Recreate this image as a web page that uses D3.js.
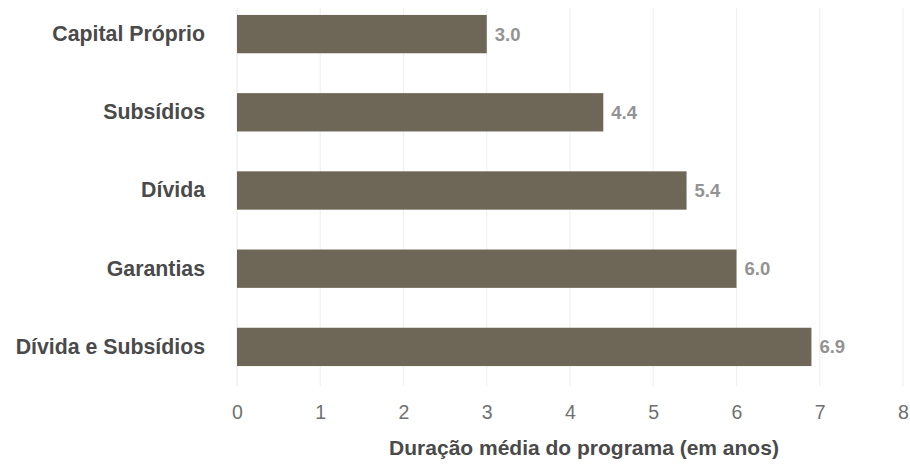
<!DOCTYPE html>
<html>
<head>
<meta charset="utf-8">
<script src="https://cdn.jsdelivr.net/npm/d3@7"></script>
<style>
  html, body { margin: 0; padding: 0; background: #fff; }
  svg { display: block; }
  text { font-family: "Liberation Sans", Arial, sans-serif; }
</style>
</head>
<body>
<svg id="chart" width="910" height="464"></svg>
<script>
// Average programme duration by instrument type
const categories = ["Capital Próprio", "Subsídios", "Dívida", "Garantias", "Dívida e Subsídios"];
const durations = [3.0, 4.4, 5.4, 6.0, 6.9];
const xTicks = [0, 1, 2, 3, 4, 5, 6, 7, 8];
const xTitle = "Duração média do programa (em anos)";

const FONT = "\"Liberation Sans\", Arial, sans-serif";
const svg = d3.select("#chart");
const plotLeft = 237, plotRight = 903, plotTop = -5, plotBottom = 386;

const x = d3.scaleLinear().domain([0, 8]).range([plotLeft, plotRight]);
const y = d3.scaleBand().domain(categories).range([plotTop, plotBottom]).paddingInner(0.51).paddingOuter(0.255);

// vertical gridlines
svg.append("g").selectAll("line").data(xTicks.slice(1)).join("line")
  .attr("x1", d => x(d)).attr("x2", d => x(d))
  .attr("y1", 8).attr("y2", plotBottom)
  .attr("stroke", "#f1f1f1").attr("stroke-width", 1.2);

// baseline
svg.append("line")
  .attr("x1", x(0)).attr("x2", x(0)).attr("y1", 8).attr("y2", plotBottom)
  .attr("stroke", "#e8e8e8").attr("stroke-width", 1);

// bars
svg.append("g").selectAll("rect").data(categories).join("rect")
  .attr("x", x(0))
  .attr("y", d => y(d))
  .attr("width", (d, i) => x(durations[i]) - x(0))
  .attr("height", y.bandwidth())
  .attr("fill", "#6e6656");

// value labels
svg.append("g").selectAll("text").data(categories).join("text")
  .attr("x", (d, i) => x(durations[i]) + 8)
  .attr("y", d => y(d) + y.bandwidth() / 2)
  .attr("dy", "0.35em")
  .attr("font-size", 18.5)
  .attr("font-weight", "bold")
  .attr("fill", "#939393")
  .text((d, i) => durations[i].toFixed(1));

// category axis
const yAxis = svg.append("g")
  .attr("transform", `translate(${plotLeft},0)`)
  .call(d3.axisLeft(y).tickSize(0).tickPadding(32));
yAxis.select(".domain").remove();
yAxis.selectAll("text")
  .attr("font-size", 21.3)
  .attr("font-weight", "bold")
  .attr("fill", "#4a4a4a")
  .style("font-family", FONT);

// value axis
const xAxis = svg.append("g")
  .attr("transform", `translate(0,${plotBottom})`)
  .call(d3.axisBottom(x).tickValues(xTicks).tickFormat(d3.format("d")).tickSize(0).tickPadding(19));
xAxis.select(".domain").remove();
xAxis.selectAll("text")
  .attr("font-size", 19.5)
  .attr("fill", "#707070")
  .style("font-family", FONT);

// axis title
svg.append("text")
  .attr("x", 584)
  .attr("y", 455)
  .attr("text-anchor", "middle")
  .attr("font-size", 21)
  .attr("font-weight", "bold")
  .attr("fill", "#4a4a4a")
  .style("font-family", FONT)
  .text(xTitle);
</script>
</body>
</html>
